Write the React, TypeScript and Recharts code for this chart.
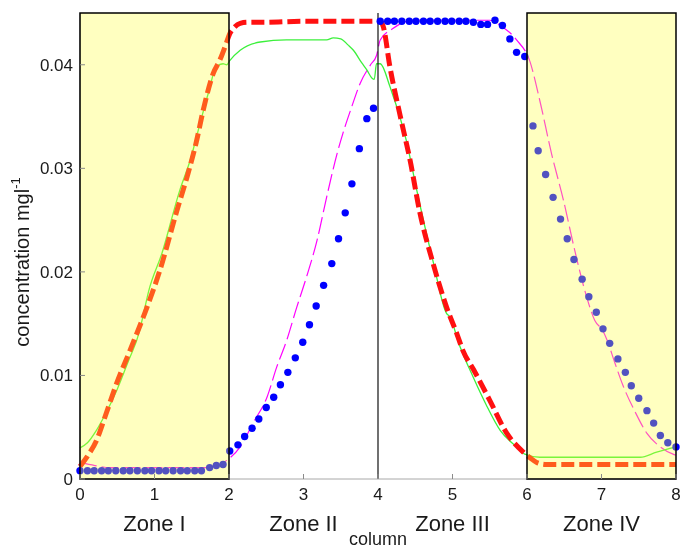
import {
  ComposedChart,
  Line,
  Scatter,
  XAxis,
  YAxis,
  ReferenceArea,
  ReferenceLine,
  Label,
} from "recharts";

const xTicks = [0, 1, 2, 3, 4, 5, 6, 7, 8];
const yTicks = [0, 0.01, 0.02, 0.03, 0.04];
const zoneNames = ["Zone I", "Zone II", "Zone III", "Zone IV"];
const zoneCenters = [1, 3, 5, 7];
const shadedZones = [
  [0, 2],
  [6, 8],
];
const dividerX = 4;

// blue dots
const blueX = [
  0.0, 0.1, 0.19, 0.29, 0.38, 0.48, 0.58, 0.67, 0.77, 0.87, 0.96, 1.06, 1.15, 1.25, 1.35, 1.44, 1.54, 1.63,
  1.74, 1.83, 1.92, 2.01, 2.12, 2.21, 2.31, 2.4, 2.5, 2.6, 2.69, 2.79, 2.89, 2.99, 3.08, 3.17, 3.27, 3.38,
  3.47, 3.56, 3.65, 3.75, 3.85, 3.94, 4.03, 4.13, 4.22, 4.32, 4.42, 4.51, 4.61, 4.7, 4.8, 4.9, 4.99, 5.09,
  5.18, 5.28, 5.38, 5.47, 5.57, 5.67, 5.77, 5.86, 5.97, 6.08, 6.15, 6.25, 6.35, 6.45, 6.54, 6.63, 6.74, 6.83,
  6.93, 7.02, 7.11, 7.22, 7.32, 7.4, 7.5, 7.61, 7.7, 7.79, 7.89, 8.0,
];
const blueY = [
  0.0008, 0.0008, 0.0008, 0.0008, 0.0008, 0.0008, 0.0008, 0.0008, 0.0008, 0.0008, 0.0008, 0.0008, 0.0008,
  0.0008, 0.0008, 0.0008, 0.0008, 0.0008, 0.0011, 0.0013, 0.0014, 0.0027, 0.0033, 0.0041, 0.0049, 0.0058,
  0.0069, 0.0079, 0.0091, 0.0103, 0.0117, 0.0132, 0.0149, 0.0167, 0.0187, 0.0208, 0.0232, 0.0257, 0.0285,
  0.0319, 0.0348, 0.0358, 0.0442, 0.0442, 0.0442, 0.0442, 0.0442, 0.0442, 0.0442, 0.0442, 0.0442, 0.0442,
  0.0442, 0.0442, 0.0442, 0.0441, 0.0439, 0.0439, 0.0443, 0.0438, 0.0425, 0.0412, 0.0408, 0.0341, 0.0317,
  0.0294, 0.0272, 0.0251, 0.0232, 0.0212, 0.0193, 0.0176, 0.0161, 0.0145, 0.0131, 0.0116, 0.0103, 0.009,
  0.0078, 0.0066, 0.0054, 0.0042, 0.0035, 0.0031,
];

// red thick dashed
const redX = [
  0, 0.1, 0.22, 0.35, 0.49, 0.67, 0.9, 1.07, 1.3, 1.45, 1.56, 1.65, 1.79, 1.88, 1.95, 2.01, 2.07, 2.15, 2.25,
  2.46, 3.0, 3.5, 4.0, 4.03, 4.07, 4.16, 4.3, 4.43, 4.56, 4.74, 4.92, 5.06, 5.14, 5.28, 5.5, 5.73, 5.95, 6.05,
  6.13, 6.26, 7.0, 8.0,
];
const redY = [
  0.0012, 0.0022, 0.0037, 0.0063, 0.0092, 0.0124, 0.0166, 0.0201, 0.0259, 0.0295, 0.0325, 0.0355, 0.0392,
  0.0405, 0.0418, 0.043, 0.0436, 0.044, 0.0441, 0.0441, 0.0442, 0.0442, 0.0442, 0.0442, 0.0437, 0.0398, 0.035,
  0.0308, 0.0258, 0.0208, 0.0166, 0.014, 0.0124, 0.0106, 0.0076, 0.0044, 0.0026, 0.002, 0.0016, 0.0014, 0.0014,
  0.0014,
];

// green thin solid
const greenX = [
  0, 0.1, 0.22, 0.35, 0.49, 0.65, 0.8, 0.86, 0.92, 1.1, 1.34, 1.48, 1.61, 1.72, 1.83, 1.92, 1.97, 2.01, 2.15,
  2.42, 2.77, 3.1, 3.31, 3.4, 3.5, 3.6, 3.67, 3.78, 3.85, 3.92, 3.95, 3.98, 4.03, 4.16, 4.38, 4.52, 4.74, 4.92,
  4.96, 5.1, 5.28, 5.45, 5.64, 5.86, 5.97, 6.17, 7.0, 7.52, 7.74, 8.0,
];
const greenY = [
  0.003, 0.0035, 0.0047, 0.0064, 0.0085, 0.0114, 0.0143, 0.0162, 0.0181, 0.0218, 0.0279, 0.0308, 0.0343,
  0.0372, 0.0398, 0.0401, 0.04, 0.0404, 0.0414, 0.0422, 0.0424, 0.0424, 0.0424, 0.0426, 0.0425, 0.0419, 0.0414,
  0.0402, 0.0395, 0.0387, 0.0386, 0.0401, 0.0401, 0.0379, 0.0327, 0.0279, 0.021, 0.016, 0.0157, 0.0128, 0.0098,
  0.0072, 0.0047, 0.0031, 0.0024, 0.0021, 0.0021, 0.0021, 0.0026, 0.0031,
];

// magenta thin dashed
const magX = [
  0, 0.2, 0.4, 1.0, 1.7, 1.85, 1.97, 2.15, 2.33, 2.51, 2.64, 2.77, 2.91, 3.04, 3.18, 3.31, 3.45, 3.53, 3.65,
  3.76, 3.9, 3.98, 4.03, 4.2, 4.34, 4.5, 5.0, 5.5, 5.64, 5.86, 6.04, 6.17, 6.33, 6.49, 6.64, 6.8, 6.91, 7.02,
  7.07, 7.18, 7.29, 7.45, 7.61, 7.79, 7.96, 8.0,
];
const magY = [
  0.0016, 0.0013, 0.0011, 0.0011, 0.0011, 0.0013, 0.0018, 0.0031, 0.0055, 0.0079, 0.0108, 0.0133, 0.0166,
  0.0195, 0.023, 0.0272, 0.0314, 0.0334, 0.036, 0.0382, 0.04, 0.0409, 0.0424, 0.0435, 0.0441, 0.0443, 0.0443,
  0.0443, 0.0438, 0.0424, 0.0403, 0.0366, 0.0314, 0.0269, 0.0221, 0.0176, 0.0153, 0.0143, 0.0135, 0.0112, 0.009,
  0.0065, 0.0044, 0.0031, 0.0024, 0.0023,
];

const toPoints = (xs: number[], ys: number[]) => xs.map((x, i) => ({ x, y: ys[i] }));

const FONT = '"Liberation Sans", Arial, Helvetica, sans-serif';
const TICK_COLOR = "#8a8a8a";
const BOX_COLOR = "#a8a8a8";

function BottomTick({ x, y, payload }: any) {
  const zi = zoneCenters.indexOf(payload.value);
  return (
    <g>
      <line x1={x} y1={y} x2={x} y2={y - 5} stroke={TICK_COLOR} />
      <text x={x} y={y + 21} textAnchor="middle" fontSize={17} fontFamily={FONT} fill="#1a1a1a">
        {payload.value}
      </text>
      {zi >= 0 && (
        <text x={x} y={y + 52} textAnchor="middle" fontSize={22} fontFamily={FONT} fill="#1a1a1a">
          {zoneNames[zi]}
        </text>
      )}
    </g>
  );
}

function TopTick({ x, y }: any) {
  return <line x1={x} y1={y} x2={x} y2={y + 5} stroke={TICK_COLOR} />;
}

function LeftTick({ x, y, payload }: any) {
  return (
    <g>
      <line x1={x} y1={y} x2={x + 5} y2={y} stroke={TICK_COLOR} />
      <text x={x - 7} y={y + 6} textAnchor="end" fontSize={17} fontFamily={FONT} fill="#1a1a1a">
        {String(payload.value)}
      </text>
    </g>
  );
}

function RightTick({ x, y }: any) {
  return <line x1={x} y1={y} x2={x - 5} y2={y} stroke={TICK_COLOR} />;
}

function YTitle({ viewBox }: any) {
  const vb = viewBox || { x: 20, y: 13, width: 60, height: 466 };
  const cx = vb.x + 2;
  const cy = vb.y + vb.height / 2 + 16;
  return (
    <text
      transform={`translate(${cx},${cy}) rotate(-90)`}
      textAnchor="middle"
      dominantBaseline="central"
      fontSize={20}
      fontFamily={FONT}
      fill="#1a1a1a"
    >
      <tspan>concentration mgl</tspan>
      <tspan dy={-7} fontSize={13}>
        -1
      </tspan>
    </text>
  );
}

export default function App() {
  return (
    <div style={{ position: "fixed", left: 0, top: 0, width: 682, height: 549 }}>
      <ComposedChart width={682} height={549} margin={{ top: 13, right: 6, bottom: 0, left: 20 }}>
        <XAxis
          xAxisId="main"
          type="number"
          dataKey="x"
          domain={[0, 8]}
          ticks={xTicks}
          interval={0}
          height={70}
          tickSize={0}
          tickMargin={0}
          tickLine={false}
          axisLine={{ stroke: BOX_COLOR }}
          tick={<BottomTick />}
        >
          <Label value="column" position="insideBottom" offset={4} fontSize={18} fontFamily={FONT} fill="#1a1a1a" />
        </XAxis>
        <XAxis
          xAxisId="top"
          orientation="top"
          type="number"
          dataKey="x"
          domain={[0, 8]}
          ticks={xTicks}
          interval={0}
          height={0}
          tickSize={0}
          tickMargin={0}
          tickLine={false}
          axisLine={{ stroke: BOX_COLOR }}
          tick={<TopTick />}
        />
        <YAxis
          yAxisId="main"
          type="number"
          dataKey="y"
          domain={[0, 0.045]}
          ticks={yTicks}
          interval={0}
          width={60}
          tickSize={0}
          tickMargin={0}
          tickLine={false}
          axisLine={{ stroke: BOX_COLOR }}
          tick={<LeftTick />}
        >
          <Label content={<YTitle />} />
        </YAxis>
        <YAxis
          yAxisId="right"
          orientation="right"
          type="number"
          dataKey="y"
          domain={[0, 0.045]}
          ticks={yTicks}
          interval={0}
          width={0}
          tickSize={0}
          tickMargin={0}
          tickLine={false}
          axisLine={{ stroke: BOX_COLOR }}
          tick={<RightTick />}
        />

        <Line
          xAxisId="main"
          yAxisId="main"
          data={toPoints(magX, magY)}
          dataKey="y"
          type="monotone"
          stroke="#ff00ff"
          strokeWidth={1.2}
          strokeDasharray="17 5"
          dot={false}
          activeDot={false}
          isAnimationActive={false}
        />
        <Line
          xAxisId="main"
          yAxisId="main"
          data={toPoints(greenX, greenY)}
          dataKey="y"
          type="monotone"
          stroke="#3cf03c"
          strokeWidth={1.3}
          dot={false}
          activeDot={false}
          isAnimationActive={false}
        />
        <Scatter
          xAxisId="main"
          yAxisId="main"
          data={toPoints(blueX, blueY)}
          dataKey="y"
          fill="#0000ff"
          shape={(p: any) => <circle cx={p.cx} cy={p.cy} r={3.7} fill="#0000ff" />}
          isAnimationActive={false}
        />
        <Line
          xAxisId="main"
          yAxisId="main"
          data={toPoints(redX, redY)}
          dataKey="y"
          type="monotone"
          stroke="#ff1010"
          strokeWidth={5}
          strokeDasharray="13 5"
          dot={false}
          activeDot={false}
          isAnimationActive={false}
        />

        <ReferenceLine xAxisId="main" yAxisId="main" x={dividerX} stroke="#111" strokeWidth={1.2} />
        {shadedZones.map(([a, b]) => (
          <ReferenceArea
            key={a}
            xAxisId="main"
            yAxisId="main"
            x1={a}
            x2={b}
            y1={0}
            y2={0.045}
            fill="#ffff3a"
            fillOpacity={0.32}
            stroke="#000"
            strokeWidth={1.5}
            zIndex={700}
          />
        ))}
      </ComposedChart>
    </div>
  );
}
